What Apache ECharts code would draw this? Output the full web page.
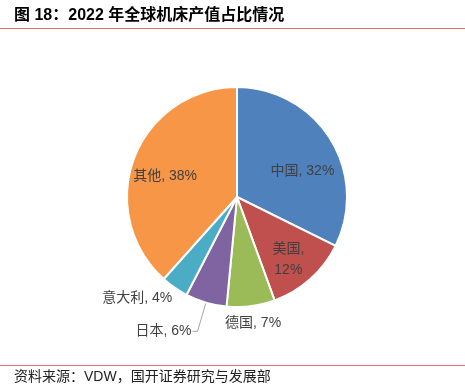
<!DOCTYPE html>
<html><head><meta charset="utf-8">
<script src="https://cdn.jsdelivr.net/npm/echarts@6/dist/echarts.min.js"></script>
<style>html,body{margin:0;padding:0;background:#fff}#c{width:465px;height:384px}</style>
</head><body><div id="c"></div>
<script>
const categories = ['中国', '美国', '德国', '日本', '意大利', '其他'];
const shares = [32, 12, 7, 6, 4, 38];
const colors = ['#4F81BD', '#C0504D', '#9BBB59', '#8064A2', '#4BACC6', '#F79646'];
const insideLabels = ['中国', '美国', '其他'];
const titleText = '图 18：2022 年全球机床产值占比情况';
const sourceText = '资料来源：VDW，国开证券研究与发展部';

const FONT = '"Liberation Sans", "Noto Sans CJK SC", sans-serif';
const chart = echarts.init(document.getElementById('c'), null, {renderer: 'canvas'});

const mainData = categories.map((name, i) => {
  const d = {name, value: shares[i], itemStyle: {color: colors[i]}};
  if (insideLabels.includes(name)) {
    d.label = {show: false};
    d.labelLine = {show: false};
  } else if (name === '德国') {
    d.label = {distanceToLabelLine: 0};
    d.labelLine = {show: false, length: 17, length2: 0};
  } else if (name === '意大利') {
    d.label = {distanceToLabelLine: -5};
    d.labelLine = {show: false, length: 13, length2: 0};
  } else if (name === '日本') {
    d.label = {distanceToLabelLine: 1};
    d.labelLine = {show: true, length: 30, length2: 5};
  }
  return d;
});

const labelData = categories.map((name, i) => ({
  name, value: shares[i],
  label: {show: insideLabels.includes(name)}
}));

// small vertical nudges of the inside labels (Excel-style placement)
const insideNudge = {'中国': 15, '美国': 5, '其他': 7};

chart.setOption({
  animation: false,
  backgroundColor: '#fff',
  graphic: [
    {type: 'text', left: 14, top: 8, style: {text: titleText, font: 'bold 16px ' + FONT, fill: '#000'}},
    {type: 'line', shape: {x1: 0, y1: 28.5, x2: 465, y2: 28.5}, style: {stroke: '#E0707A', lineWidth: 1}},
    {type: 'line', shape: {x1: 0, y1: 365.5, x2: 465, y2: 365.5}, style: {stroke: '#E0707A', lineWidth: 1}},
    {type: 'text', left: 14, top: 370, style: {text: sourceText, font: '14px ' + FONT, fill: '#222'}}
  ],
  series: [
    {
      type: 'pie',
      center: [237, 197],
      radius: [0, 110],
      startAngle: 90,
      clockwise: true,
      silent: true,
      itemStyle: {borderColor: '#fff', borderWidth: 2},
      label: {
        position: 'outside',
        formatter: '{b}, {c}%',
        fontFamily: FONT, fontSize: 14, color: '#404040'
      },
      labelLine: {lineStyle: {color: '#A6A6A6', width: 1}, smooth: false},
      labelLayout: function (p) {
        if (categories[p.dataIndex] === '德国') return {align: 'center'};
        return {};
      },
      data: mainData
    },
    {
      type: 'pie',
      center: [237, 197],
      radius: [0, 148],
      startAngle: 90,
      clockwise: true,
      silent: true,
      itemStyle: {color: 'rgba(0,0,0,0)'},
      label: {
        position: 'inside',
        formatter: function (p) {
          return p.name === '美国' ? p.name + ',\n' + p.value + '%' : p.name + ', ' + p.value + '%';
        },
        fontFamily: FONT, fontSize: 14, color: '#404040', lineHeight: 21
      },
      labelLine: {show: false},
      labelLayout: function (p) {
        return {dy: insideNudge[categories[p.dataIndex]] || 0};
      },
      data: labelData
    }
  ]
});
</script></body></html>
